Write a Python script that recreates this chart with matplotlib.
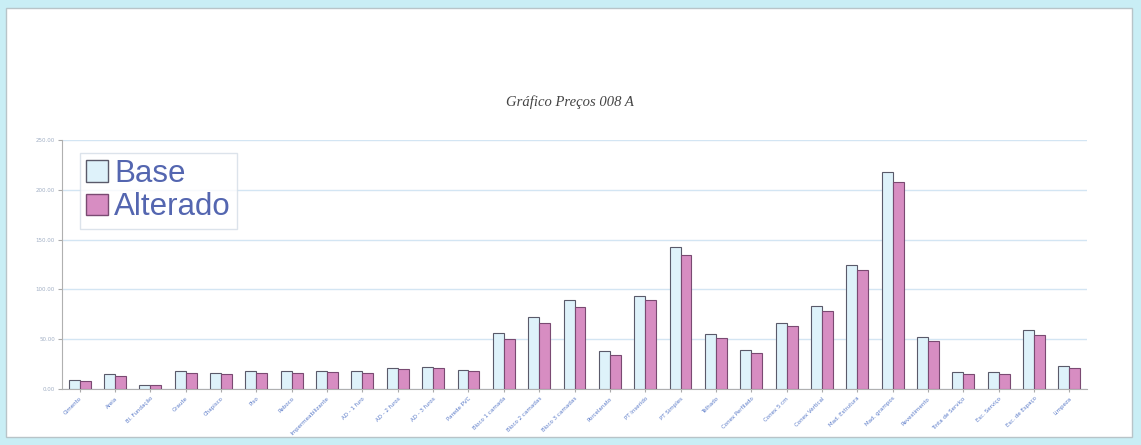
import matplotlib
matplotlib.use("Agg")
import matplotlib.pyplot as plt
import numpy as np
from matplotlib.patches import Rectangle, Patch

categories = [
    "Cimento", "Areia", "Bl. Fundação", "Graute", "Chapisco", "Piso",
    "Reboco", "Impermeabilizante", "AD - 1 furo", "AD - 2 furos",
    "AD - 3 furos", "Parede PVC", "Bloco 1 camada", "Bloco 2 camadas",
    "Bloco 3 camadas", "Porcelanato", "PT Inserido", "PT Simples",
    "Telhado", "Conex Perfilado", "Conex 5 cm", "Conex Vertical",
    "Mad. Estrutura", "Mad. grampos", "Revestimento", "Tinta de Serviço",
    "Esc. Serviço", "Esc. de Espaço", "Limpeza",
]
base = [9, 15, 4, 18, 16, 18, 18, 18, 18, 21, 22, 19, 56, 72, 89, 38,
        93, 143, 55, 39, 66, 83, 125, 218, 52, 17, 17, 59, 23]
alterado = [8, 13, 4, 16, 15, 16, 16, 17, 16, 20, 21, 18, 50, 66, 82, 34,
            89, 135, 51, 36, 63, 78, 119, 208, 48, 15, 15, 54, 21]
yticks = [0, 50, 100, 150, 200, 250]
ytick_labels = ["0.00", "50.00", "100.00", "150.00", "200.00", "250.00"]

W, H = 1141, 445
fig = plt.figure(figsize=(W / 100, H / 100), dpi=100)
fig.patch.set_facecolor("#c9eef5")

# inner white panel
panel = Rectangle((6 / W, 1 - 437 / H), (1132 - 6) / W, (437 - 8) / H,
                  transform=fig.transFigure, facecolor="white",
                  edgecolor="#b8c4c8", linewidth=1.0, zorder=-10)
fig.patches.append(panel)

ax = fig.add_axes([62 / W, 1 - 389 / H, (1087 - 62) / W, (389 - 140) / H])
ax.set_facecolor("white")
ax.set_zorder(1)

base_fc, base_ec = "#def2fa", "#5a5a6a"
alt_fc, alt_ec = "#d78dc2", "#7a4a72"

x = np.arange(len(categories))
bw = 0.31
ax.bar(x - bw / 2, base, width=bw, color=base_fc, edgecolor=base_ec,
       linewidth=0.8, zorder=3, label="Base")
ax.bar(x + bw / 2, alterado, width=bw, color=alt_fc, edgecolor=alt_ec,
       linewidth=0.8, zorder=3, label="Alterado")

ax.set_xlim(-0.5, len(categories) - 0.5)
ax.set_ylim(0, 250)
ax.set_yticks(yticks)
ax.set_yticklabels(ytick_labels, fontsize=4, color="#a0aec4")
ax.yaxis.grid(True, color="#d3e5f3", linewidth=1.0, zorder=0)
ax.set_axisbelow(True)
ax.tick_params(axis="y", length=3, color="#aaaaaa", pad=2)
ax.set_xticks(x)
ax.set_xticklabels(categories, rotation=45, ha="right", rotation_mode="anchor",
                   fontsize=4, color="#5a7ac8")
ax.tick_params(axis="x", length=2, color="#aaaaaa", pad=3)

for side in ["top", "right"]:
    ax.spines[side].set_visible(False)
ax.spines["left"].set_color("#b0b0b0")
ax.spines["bottom"].set_color("#b0b0b0")
ax.spines["left"].set_linewidth(0.8)
ax.spines["bottom"].set_linewidth(0.8)

handles = [Patch(facecolor=base_fc, edgecolor=base_ec, label="Base"),
           Patch(facecolor=alt_fc, edgecolor=alt_ec, label="Alterado")]
leg = ax.legend(handles=handles, loc="upper left",
                bbox_to_anchor=(18 / 1025, 1 - 13 / 249), borderaxespad=0,
                prop={"family": "Liberation Sans", "size": 22.5},
                frameon=True, fancybox=False, handlelength=0.7,
                handleheight=0.7, handletextpad=0.2, borderpad=0.2,
                labelspacing=0.1, labelcolor="#5466b0")
leg.get_frame().set_edgecolor("#d4dde6")
leg.get_frame().set_linewidth(1.0)

fig.text(570 / W, 1 - 102 / H, "Gráfico Preços 008 A", ha="center",
         va="center", fontsize=10.5, color="#444444",
         family="Liberation Serif", style="italic")

fig.savefig("out.png", dpi=100, facecolor=fig.get_facecolor())
